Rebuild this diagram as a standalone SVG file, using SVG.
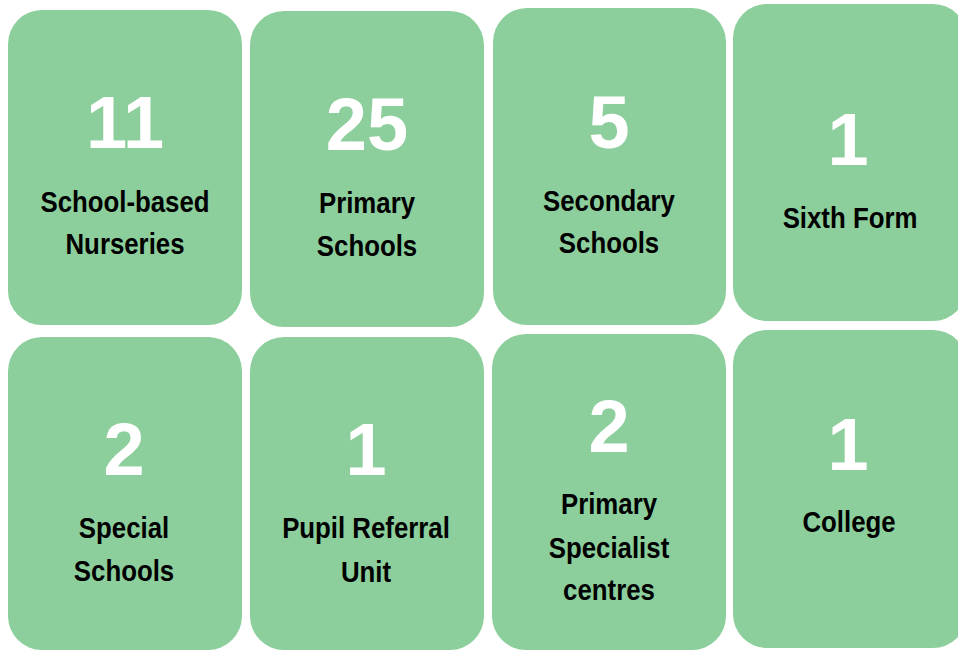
<svg xmlns="http://www.w3.org/2000/svg" width="958" height="650" viewBox="0 0 958 650">
<style>
.card{fill:#8ccf9c}
.num{font-family:"Liberation Sans",Arial,sans-serif;font-weight:bold;font-size:74px;fill:#ffffff;text-anchor:middle}
.lbl{font-family:"Liberation Sans",Arial,sans-serif;font-weight:bold;font-size:29px;fill:#000000;text-anchor:middle}
</style>
<rect width="958" height="650" fill="#ffffff"/>
<g id="connectors"/>
<g id="n1"><rect class="card" x="8" y="10" width="234" height="315" rx="34"/><text class="num" x="125" y="148">11</text><text class="lbl" transform="translate(125,212) scale(0.89,1)">School-based</text><text class="lbl" transform="translate(125,254) scale(0.89,1)">Nurseries</text></g>
<g id="n2"><rect class="card" x="250" y="11" width="234" height="316" rx="34"/><text class="num" x="367" y="150">25</text><text class="lbl" transform="translate(367,213) scale(0.89,1)">Primary</text><text class="lbl" transform="translate(367,256) scale(0.89,1)">Schools</text></g>
<g id="n3"><rect class="card" x="493" y="8" width="233" height="317" rx="34"/><text class="num" x="609" y="148">5</text><text class="lbl" transform="translate(609,211) scale(0.89,1)">Secondary</text><text class="lbl" transform="translate(609,253) scale(0.89,1)">Schools</text></g>
<g id="n4"><rect class="card" x="733" y="4" width="234" height="317" rx="34"/><text class="num" x="848" y="165">1</text><text class="lbl" transform="translate(850,228) scale(0.89,1)">Sixth Form</text></g>
<g id="n5"><rect class="card" x="8" y="337" width="234" height="313" rx="34"/><text class="num" x="124" y="475">2</text><text class="lbl" transform="translate(124,538) scale(0.89,1)">Special</text><text class="lbl" transform="translate(124,581) scale(0.89,1)">Schools</text></g>
<g id="n6"><rect class="card" x="250" y="337" width="234" height="313" rx="34"/><text class="num" x="366" y="475">1</text><text class="lbl" transform="translate(366,538) scale(0.89,1)">Pupil Referral</text><text class="lbl" transform="translate(366,582) scale(0.89,1)">Unit</text></g>
<g id="n7"><rect class="card" x="492" y="334" width="234" height="316" rx="34"/><text class="num" x="609" y="452">2</text><text class="lbl" transform="translate(609,514) scale(0.89,1)">Primary</text><text class="lbl" transform="translate(609,558) scale(0.89,1)">Specialist</text><text class="lbl" transform="translate(609,600) scale(0.89,1)">centres</text></g>
<g id="n8"><rect class="card" x="733" y="330" width="234" height="318" rx="34"/><text class="num" x="848" y="470">1</text><text class="lbl" transform="translate(849,532) scale(0.89,1)">College</text></g>
</svg>
